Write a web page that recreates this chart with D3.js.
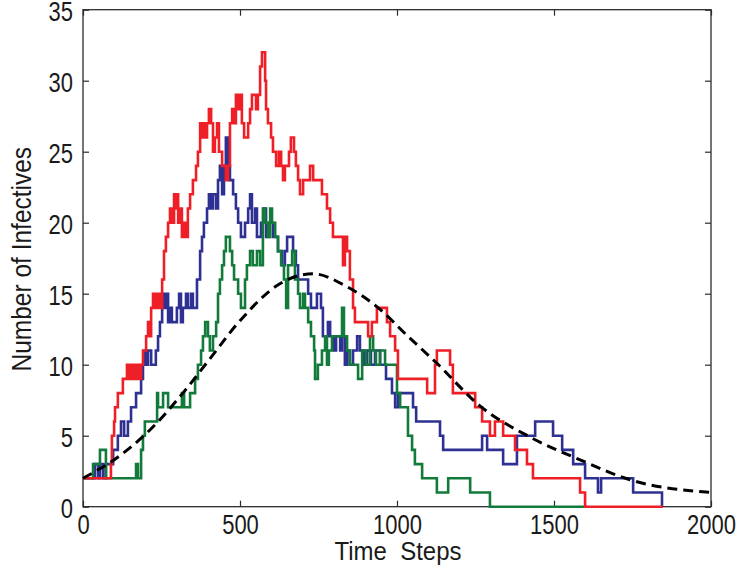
<!DOCTYPE html>
<html><head><meta charset="utf-8">
<script src="https://cdn.jsdelivr.net/npm/d3@7"></script>
<style>html,body{margin:0;padding:0;background:#fff;}svg{display:block;}</style>
</head><body>
<script>
// ---- data ----
const xTicks = [0, 500, 1000, 1500, 2000];
const yTicks = [0, 5, 10, 15, 20, 25, 30, 35];
const xLabel = "Time  Steps";
const yLabel = "Number of Infectives";

// step series: [time, value] breakpoints (value holds until next time)
const redRun = [[0,2],[89,3],[92,5],[99,6],[102,7],[111,8],[127,9],[140,10],[147,9],[150,10],[153,9],[156,10],[162,9],[166,10],[172,9],[175,10],[182,9],[185,10],[191,11],[201,12],[207,13],[213,12],[217,14],[223,15],[226,14],[232,15],[236,14],[242,15],[248,14],[252,16],[258,18],[264,19],[271,20],[277,21],[283,20],[290,22],[293,21],[296,22],[303,20],[309,21],[315,19],[322,20],[328,19],[334,21],[341,22],[350,23],[360,24],[366,25],[373,27],[379,26],[382,27],[389,26],[395,27],[401,28],[408,27],[414,25],[420,26],[427,27],[433,25],[443,24],[455,23],[462,24],[468,27],[475,28],[481,27],[487,29],[494,28],[500,29],[506,27],[513,26],[526,27],[532,28],[538,29],[551,28],[557,29],[564,31],[570,32],[580,30],[583,28],[589,27],[599,26],[605,25],[615,24],[624,25],[631,24],[637,23],[643,24],[656,25],[662,26],[672,25],[678,24],[685,23],[691,22],[701,23],[723,24],[733,23],[761,22],[777,21],[787,20],[796,19],[828,17],[834,19],[841,18],[850,16],[860,14],[866,13],[908,12],[920,13],[936,14],[968,13],[978,12],[994,11],[1003,9],[1096,8],[1121,10],[1127,11],[1169,10],[1178,8],[1249,7],[1271,6],[1296,5],[1312,6],[1338,5],[1376,4],[1414,3],[1433,2],[1583,1],[1599,0],[1847,0]];

const blueRun = [[0,2],[38,3],[48,2],[54,3],[64,2],[73,3],[96,4],[111,5],[121,6],[131,5],[143,6],[153,7],[169,8],[185,9],[191,10],[197,11],[201,10],[207,11],[217,10],[232,11],[239,12],[245,13],[252,15],[258,14],[264,15],[271,13],[277,14],[283,13],[299,14],[306,15],[312,13],[318,14],[328,15],[334,14],[344,15],[350,14],[363,16],[373,18],[379,19],[385,20],[395,21],[401,22],[408,21],[414,22],[424,21],[430,23],[436,24],[443,22],[449,24],[455,26],[462,24],[468,23],[478,22],[487,21],[494,20],[503,19],[516,20],[526,21],[532,22],[538,20],[548,21],[554,19],[567,20],[576,21],[583,19],[592,20],[605,19],[621,18],[634,17],[643,18],[650,19],[669,18],[678,17],[685,16],[717,15],[726,14],[745,15],[758,14],[764,12],[780,13],[787,12],[799,11],[806,12],[819,11],[825,12],[834,10],[841,11],[850,10],[860,11],[873,12],[882,11],[895,10],[905,11],[917,10],[930,11],[946,10],[965,9],[984,8],[994,7],[1003,8],[1051,7],[1061,6],[1137,5],[1147,4],[1271,5],[1287,4],[1338,3],[1382,5],[1440,6],[1497,5],[1526,4],[1561,3],[1599,2],[1640,1],[1650,2],[1752,1],[1844,0],[1845,0]];

const greenRun = [[0,2],[32,3],[54,4],[73,2],[169,3],[175,2],[185,4],[191,5],[197,6],[236,8],[239,7],[255,8],[271,7],[315,8],[322,7],[341,8],[357,9],[366,10],[376,11],[382,12],[389,13],[398,12],[404,11],[414,12],[424,13],[430,15],[436,16],[443,17],[449,18],[455,19],[468,18],[475,17],[481,16],[494,15],[503,14],[516,16],[522,17],[532,18],[541,17],[554,18],[564,17],[573,21],[580,20],[589,19],[596,21],[602,20],[612,19],[621,18],[631,17],[640,16],[647,14],[653,17],[666,18],[675,16],[685,15],[691,14],[701,15],[707,14],[717,13],[726,12],[736,11],[739,9],[748,10],[761,11],[771,12],[777,10],[783,11],[793,12],[825,14],[831,12],[841,11],[850,10],[876,9],[889,11],[901,10],[914,12],[924,11],[933,10],[946,11],[962,10],[1000,8],[1010,7],[1035,5],[1048,4],[1057,3],[1080,2],[1127,1],[1163,2],[1233,1],[1296,0],[1605,0]];

// deterministic mean curve
const meanCurve = [[0,2],[105,3.4],[213,5.4],[318,8],[400,10.3],[500,13.1],[627,15.7],[691,16.3],[733,16.4],[840,15.5],[946,13.9],[1030,12.1],[1127,10.1],[1264,7.1],[1424,4.9],[1583,3.3],[1742,1.9],[2000,1.0]];

// ---- drawing ----
const W = 742, H = 569;
const m = {left: 83, right: 711, top: 9.7, bottom: 506.7};
const svg = d3.select("body").append("svg").attr("width", W).attr("height", H);
const x = d3.scaleLinear().domain([0, 2000]).range([m.left, m.right]);
const y = d3.scaleLinear().domain([0, 35]).range([m.bottom, m.top]);

const font = "'Liberation Sans', Arial, Helvetica, sans-serif";
const axisColor = "#2b2b2b";
const textColor = "#1a1a1a";

const step = d3.line().x(d => x(d[0])).y(d => y(d[1])).curve(d3.curveStepAfter);
const smooth = d3.line().x(d => x(d[0])).y(d => y(d[1])).curve(d3.curveMonotoneX);

const series = [
  {data: blueRun, color: "#2e3192"},
  {data: greenRun, color: "#127a3a"},
  {data: redRun, color: "#ee1f26"}
];

// frame
svg.append("rect").attr("x", m.left).attr("y", m.top)
  .attr("width", m.right - m.left).attr("height", m.bottom - m.top)
  .attr("fill", "none").attr("stroke", axisColor).attr("stroke-width", 1.3);

// axes with inward ticks
const tl = 6;
const gx = svg.append("g").attr("transform", `translate(0,${m.bottom})`)
  .call(d3.axisBottom(x).tickValues(xTicks).tickSize(-tl).tickFormat(d3.format("d")));
const gxt = svg.append("g").attr("transform", `translate(0,${m.top})`)
  .call(d3.axisTop(x).tickValues(xTicks).tickSize(-tl).tickFormat(""));
const gy = svg.append("g").attr("transform", `translate(${m.left},0)`)
  .call(d3.axisLeft(y).tickValues(yTicks).tickSize(-tl).tickFormat(d3.format("d")));
const gyr = svg.append("g").attr("transform", `translate(${m.right},0)`)
  .call(d3.axisRight(y).tickValues(yTicks).tickSize(-tl).tickFormat(""));
[gx, gxt, gy, gyr].forEach(g => {
  g.select(".domain").remove();
  g.selectAll("line").attr("stroke", axisColor).attr("stroke-width", 1.2);
  g.selectAll("text").attr("fill", textColor).style("font-family", font).style("font-size", "22px");
});
// tall, narrow tick labels (stretched vertically like the original)
gx.selectAll(".tick text").attr("x", null).attr("y", 0).attr("dy", null)
  .attr("transform", "translate(0,27) scale(1,1.22)");
gy.selectAll(".tick text").attr("x", 0).attr("y", 0).attr("dy", null)
  .attr("text-anchor", "end")
  .attr("transform", "translate(-10,10.3) scale(1,1.22)");

// series lines
series.forEach(s => {
  svg.append("path").datum(s.data).attr("d", step)
    .attr("fill", "none").attr("stroke", s.color).attr("stroke-width", 2.6)
    .attr("stroke-linejoin", "miter");
});
svg.append("path").datum(meanCurve).attr("d", smooth)
  .attr("fill", "none").attr("stroke", "#000").attr("stroke-width", 3)
  .attr("stroke-dasharray", "10,6");

// axis titles
svg.append("text")
  .attr("transform", `translate(${(m.left + m.right) / 2 + 1},560) scale(1,1.1)`)
  .attr("text-anchor", "middle").style("font-family", font).style("font-size", "24px")
  .attr("fill", textColor).attr("xml:space", "preserve").text(xLabel);
svg.append("text")
  .attr("transform", `translate(31,${(m.top + m.bottom) / 2 + 1}) rotate(-90) scale(1,1.15)`)
  .attr("text-anchor", "middle").style("font-family", font).style("font-size", "24.5px")
  .attr("fill", textColor).text(yLabel);
</script>
</body></html>
